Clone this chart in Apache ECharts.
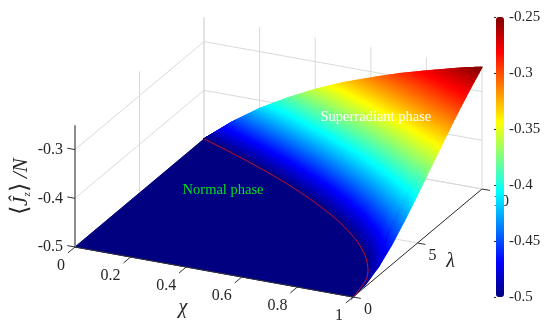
<!DOCTYPE html>
<html>
<head>
<meta charset="utf-8">
<style>
  html, body { margin: 0; padding: 0; background: #fff; }
  #main { width: 550px; height: 336px; }
</style>
<script src="https://cdn.jsdelivr.net/npm/echarts@6/dist/echarts.min.js"></script>
</head>
<body>
<div id="main"></div>
<script>
// superradiant part of the surface: samples run along lambda, from the phase
// boundary (fraction 0) out to lambda = 10 (fraction 1)
var chiSamples = [0, 0.1, 0.2, 0.3, 0.4, 0.5, 0.6, 0.7, 0.8, 0.9, 0.95, 1];
var boundaryAtSample = [10, 9.487, 8.944, 8.367, 7.746, 7.071, 6.325, 5.477, 4.472, 3.162, 2.236, 0];
var spanFractions = [0, 0.1, 0.2, 0.3, 0.4, 0.5, 0.6, 0.7, 0.8, 0.9, 1];
var jzChi000 = [-0.5, -0.5, -0.5, -0.5, -0.5, -0.5, -0.5, -0.5, -0.5, -0.5, -0.5];
var jzChi010 = [-0.5, -0.495, -0.49, -0.486, -0.481, -0.477, -0.472, -0.468, -0.463, -0.459, -0.455];
var jzChi020 = [-0.5, -0.491, -0.482, -0.473, -0.464, -0.456, -0.448, -0.439, -0.432, -0.424, -0.417];
var jzChi030 = [-0.5, -0.486, -0.474, -0.461, -0.449, -0.437, -0.426, -0.415, -0.405, -0.394, -0.385];
var jzChi040 = [-0.5, -0.483, -0.466, -0.451, -0.436, -0.421, -0.407, -0.394, -0.381, -0.369, -0.357];
var jzChi050 = [-0.5, -0.48, -0.46, -0.442, -0.424, -0.407, -0.391, -0.375, -0.361, -0.347, -0.333];
var jzChi060 = [-0.5, -0.477, -0.455, -0.434, -0.414, -0.395, -0.377, -0.359, -0.343, -0.327, -0.313];
var jzChi070 = [-0.5, -0.475, -0.452, -0.428, -0.406, -0.385, -0.365, -0.346, -0.327, -0.31, -0.294];
var jzChi080 = [-0.5, -0.475, -0.45, -0.425, -0.401, -0.378, -0.355, -0.334, -0.314, -0.296, -0.278];
var jzChi090 = [-0.5, -0.477, -0.453, -0.427, -0.401, -0.375, -0.35, -0.326, -0.304, -0.283, -0.263];
var jzChi095 = [-0.5, -0.48, -0.457, -0.432, -0.405, -0.378, -0.351, -0.325, -0.301, -0.278, -0.256];
var jzChi100 = [-0.5, -0.495, -0.481, -0.459, -0.431, -0.4, -0.368, -0.336, -0.305, -0.276, -0.25];
var jzRows = [jzChi000, jzChi010, jzChi020, jzChi030, jzChi040, jzChi050, jzChi060, jzChi070, jzChi080, jzChi090, jzChi095, jzChi100];

// phase boundary, the red curve on the floor
var boundaryChi = [0, 0.1, 0.2, 0.3, 0.4, 0.5, 0.6, 0.7, 0.8, 0.85, 0.9, 0.95, 0.98, 1];
var boundaryLambda = [10, 9.49, 8.94, 8.37, 7.75, 7.07, 6.32, 5.48, 4.47, 3.87, 3.16, 2.24, 1.41, 0];

var chiTicks = [0, 0.2, 0.4, 0.6, 0.8, 1];
var lambdaTicks = [0, 5, 10];
var zTicks = [-0.5, -0.4, -0.3];
var zBottom = -0.5;
var zTop = -0.25;
var lambdaMax = 10;

var jet = ['#000080', '#0000ff', '#0080ff', '#00ffff', '#80ff80', '#ffff00', '#ff8000', '#ff0000', '#800000'];
var serif = '"Liberation Serif", "Times New Roman", serif';
var textColor = '#262626';

// the box is drawn in parallel projection
function project(chi, lam, z) {
  return [75 + 278 * chi + 12.9 * lam, 247 + 50 * chi - 10.8 * lam - 487 * (z - zBottom)];
}

function jetColor(z) {
  return echarts.color.lerp((z - zBottom) / (zTop - zBottom), jet);
}

// custom series over a list of plain items, the item is looked up by index
function customSeries(items, z, draw) {
  return {
    type: 'custom',
    coordinateSystem: 'cartesian2d',
    xAxisIndex: 0,
    yAxisIndex: 0,
    silent: true,
    clip: false,
    z: z,
    data: items.map(function (d, i) { return [i, 0]; }),
    renderItem: function (params, api) {
      return draw(items[params.dataIndex], api);
    }
  };
}

function segment(api, s, color, width) {
  var a = api.coord(project(s[0], s[1], s[2]));
  var b = api.coord(project(s[3], s[4], s[5]));
  return {
    type: 'line',
    shape: { x1: a[0], y1: a[1], x2: b[0], y2: b[1] },
    style: { stroke: color, lineWidth: width }
  };
}

// light walls and floor lines
var wallLines = [];
chiTicks.forEach(function (c) {
  wallLines.push([c, lambdaMax, zBottom, c, lambdaMax, zTop]);
  wallLines.push([c, 0, zBottom, c, lambdaMax, zBottom]);
});
lambdaTicks.forEach(function (l) {
  wallLines.push([0, l, zBottom, 0, l, zTop]);
  wallLines.push([0, l, zBottom, 1, l, zBottom]);
});
zTicks.forEach(function (t) {
  wallLines.push([0, 0, t, 0, lambdaMax, t]);
  wallLines.push([0, lambdaMax, t, 1, lambdaMax, t]);
});

// axis lines with their little ticks
var axisDark = [[0, 0, zBottom, 1, 0, zBottom], [1, 0, zBottom, 1, lambdaMax, zBottom]];
chiTicks.forEach(function (c) {
  axisDark.push([c, 0, zBottom, c, -0.55, zBottom]);
});
lambdaTicks.forEach(function (l) {
  axisDark.push([1, l, zBottom, 1.028, l, zBottom]);
});
zTicks.forEach(function (t) {
  axisDark.push([0, 0, t, -0.028, 0, t]);
});
var axisGray = [[0, 0, zBottom, 0, 0, zTop]];

var tickLabels = [];
chiTicks.forEach(function (c) {
  tickLabels.push({ p: [c, 0, zBottom], dx: -10, dy: 19, align: 'right', text: String(c) });
});
lambdaTicks.forEach(function (l) {
  tickLabels.push({ p: [1, l, zBottom], dx: 11, dy: 13, align: 'left', text: String(l) });
});
zTicks.forEach(function (t) {
  tickLabels.push({ p: [0, 0, t], dx: -12, dy: 0, align: 'right', text: t.toFixed(1) });
});

var notes = [
  { p: [0.237, 6.37, zBottom], text: 'Normal phase', color: '#00e020' },
  { p: [0.655, 9.21, -0.37], text: 'Superradiant phase', color: '#ffffff' }
];

var surfaceCells = [];
for (var i = 0; i < chiSamples.length - 1; i++) {
  for (var j = spanFractions.length - 2; j >= 0; j--) {
    surfaceCells.push([i, j, jzRows[i][j]]);
  }
}
var shadeStepsChi = 16;
var shadeStepsLambda = 8;

function surfaceAt(i, j, u, v) {
  var chi = chiSamples[i] + (chiSamples[i + 1] - chiSamples[i]) * u;
  var edge = boundaryAtSample[i] + (boundaryAtSample[i + 1] - boundaryAtSample[i]) * u;
  var frac = spanFractions[j] + (spanFractions[j + 1] - spanFractions[j]) * v;
  var z = jzRows[i][j] * (1 - u) * (1 - v) + jzRows[i + 1][j] * u * (1 - v) +
    jzRows[i][j + 1] * (1 - u) * v + jzRows[i + 1][j + 1] * u * v;
  return [chi, edge + frac * (lambdaMax - edge), z];
}

// colour follows the height inside a cell, like interpolated shading
function drawCell(cell, api) {
  var i = cell[0], j = cell[1];
  var children = [];
  for (var a = 0; a < shadeStepsChi; a++) {
    for (var b = shadeStepsLambda - 1; b >= 0; b--) {
      var u0 = a / shadeStepsChi, u1 = (a + 1) / shadeStepsChi;
      var v0 = b / shadeStepsLambda, v1 = (b + 1) / shadeStepsLambda;
      var corners = [[u0, v0], [u1, v0], [u1, v1], [u0, v1]].map(function (q) {
        var s = surfaceAt(i, j, q[0], q[1]);
        return api.coord(project(s[0], s[1], s[2]));
      });
      var color = jetColor(surfaceAt(i, j, (u0 + u1) / 2, (v0 + v1) / 2)[2]);
      children.push({
        type: 'polygon',
        shape: { points: corners },
        style: { fill: color, stroke: color, lineWidth: 1.2 }
      });
    }
  }
  return { type: 'group', children: children };
}

var boundaryLine = boundaryChi.map(function (c, k) {
  return project(c, boundaryLambda[k], zBottom);
});

var option = {
  animation: false,
  backgroundColor: '#fff',
  grid: [
    { left: 0, right: 0, top: 0, bottom: 0 },
    { left: 496, top: 17, width: 8, height: 280 }
  ],
  xAxis: [
    { type: 'value', min: 0, max: 550, show: false, gridIndex: 0 },
    { type: 'value', min: 0, max: 1, show: false, gridIndex: 1 }
  ],
  yAxis: [
    { type: 'value', min: 0, max: 336, inverse: true, show: false, gridIndex: 0 },
    {
      type: 'value',
      gridIndex: 1,
      min: zBottom,
      max: zTop,
      interval: 0.05,
      position: 'right',
      z: 6,
      axisLine: { show: false },
      axisTick: { show: true, inside: true, length: 2, lineStyle: { color: '#333', width: 1 } },
      splitLine: { show: false },
      axisLabel: {
        margin: 5,
        color: textColor,
        fontFamily: serif,
        fontSize: 15,
        formatter: function (v) { return String(+v.toFixed(2)); }
      }
    }
  ],
  visualMap: {
    type: 'continuous',
    min: zBottom,
    max: zTop,
    seriesIndex: 2,
    dimension: 2,
    left: 496,
    top: 17,
    itemWidth: 8,
    itemHeight: 280,
    padding: 0,
    calculable: false,
    hoverLink: false,
    text: null,
    inRange: { color: jet }
  },
  series: [
    customSeries(wallLines, 1, function (s, api) {
      return segment(api, s, '#dadada', 1);
    }),
    // normal phase: flat floor inside the boundary
    customSeries([0], 2, function (d, api) {
      var pts = boundaryLine.concat([project(0, 0, zBottom)]).map(function (p) {
        return api.coord(p);
      });
      return {
        type: 'polygon',
        shape: { points: pts },
        style: { fill: jet[0], stroke: jet[0], lineWidth: 1 }
      };
    }),
    {
      type: 'custom',
      coordinateSystem: 'cartesian2d',
      xAxisIndex: 0,
      yAxisIndex: 0,
      silent: true,
      clip: false,
      z: 2,
      data: surfaceCells,
      renderItem: function (params, api) {
        return drawCell(surfaceCells[params.dataIndex], api);
      }
    },
    {
      type: 'line',
      xAxisIndex: 0,
      yAxisIndex: 0,
      silent: true,
      z: 3,
      data: boundaryLine,
      smooth: 0.3,
      showSymbol: false,
      lineStyle: { color: '#c8102e', width: 1 }
    },
    customSeries(axisGray, 3, function (s, api) {
      return segment(api, s, '#8c8c8c', 2);
    }),
    customSeries(axisDark, 3, function (s, api) {
      return segment(api, s, '#333333', 1);
    }),
    customSeries(tickLabels, 3, function (t, api) {
      var c = api.coord(project(t.p[0], t.p[1], t.p[2]));
      return {
        type: 'text',
        x: c[0] + t.dx,
        y: c[1] + t.dy,
        style: {
          text: t.text,
          align: t.align,
          verticalAlign: 'middle',
          fill: textColor,
          font: '16px ' + serif
        }
      };
    }),
    customSeries(notes, 4, function (t, api) {
      var c = api.coord(project(t.p[0], t.p[1], t.p[2]));
      return {
        type: 'text',
        x: c[0],
        y: c[1],
        style: {
          text: t.text,
          align: 'center',
          verticalAlign: 'middle',
          fill: t.color,
          font: '14.5px ' + serif
        }
      };
    }),
    // axis names sit next to the middle of their axes
    customSeries([
      { p: [0.5, 0, zBottom], dx: -31, dy: 36, text: 'χ' },
      { p: [1, 5, zBottom], dx: 33, dy: 19, text: 'λ' }
    ], 3, function (t, api) {
      var c = api.coord(project(t.p[0], t.p[1], t.p[2]));
      return {
        type: 'text',
        x: c[0] + t.dx,
        y: c[1] + t.dy,
        style: {
          text: t.text,
          align: 'center',
          verticalAlign: 'middle',
          fill: textColor,
          font: 'italic 20px ' + serif
        }
      };
    }),
    customSeries([{ p: [0, 0, -0.38], dx: -54, dy: -2 }], 3, function (t, api) {
      var c = api.coord(project(t.p[0], t.p[1], t.p[2]));
      return {
        type: 'text',
        x: c[0] + t.dx,
        y: c[1] + t.dy,
        rotation: Math.PI / 2,
        style: {
          text: '{b|⟨}{j|Ĵ}{s|z}{b|⟩}{j| /N}',
          align: 'center',
          verticalAlign: 'middle',
          fill: textColor,
          rich: {
            b: { font: '24px ' + serif, fill: textColor },
            j: { font: 'italic 21px ' + serif, fill: textColor },
            s: { font: 'italic 11px ' + serif, fill: textColor, verticalAlign: 'bottom', lineHeight: 16 }
          }
        }
      };
    })
  ]
};

var myChart = echarts.init(document.getElementById('main'));
myChart.setOption(option);
</script>
</body>
</html>
